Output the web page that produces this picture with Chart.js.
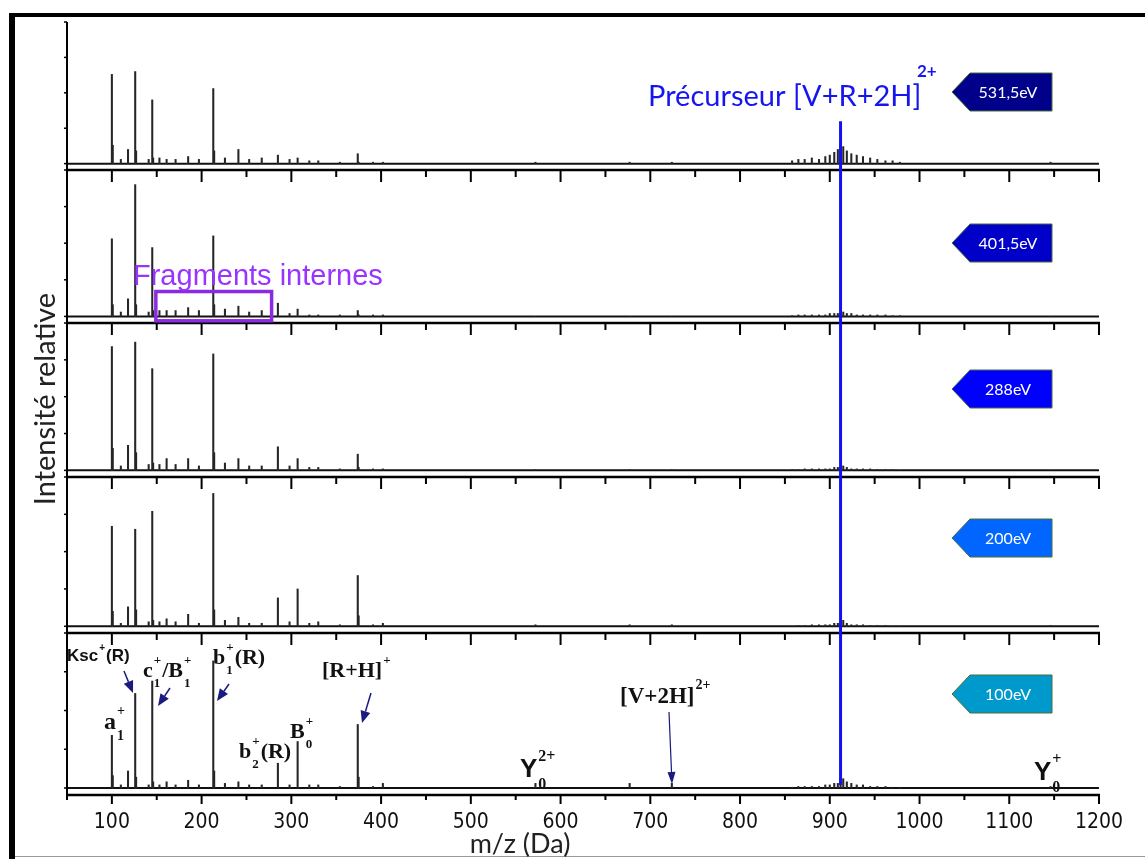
<!DOCTYPE html>
<html>
<head>
<meta charset="utf-8">
<script src="https://cdn.jsdelivr.net/npm/chart.js@4/dist/chart.umd.min.js"></script>
<style>
  body { margin: 0; background: #fff; }
  #wrap { position: relative; width: 1145px; height: 859px; overflow: hidden; background: #fff; }
  #spectres { position: absolute; left: 0; top: 0; }
  #cadre { position: absolute; left: 9px; top: 13px; width: 1200px; height: 900px;
           border-top: 4px solid #000; border-left: 6px solid #000; }
  #bas { position: absolute; left: 15px; top: 856px; width: 1140px; height: 1px; background: #999; }
</style>
</head>
<body>
<div id="wrap">
  <div id="cadre"></div>
  <div id="bas"></div>
  <canvas id="spectres" width="1145" height="859"></canvas>
</div>
<script>
// Energies (panel order, top to bottom)
const energies = ['531,5eV', '401,5eV', '288eV', '200eV', '100eV'];
const couleursEnergie = ['#00008b', '#0000c8', '#0000ff', '#0066ff', '#0099cc'];

// Fragment peaks (m/z) and relative intensities per panel
const mzPics = [100, 101, 110, 118, 126, 127, 141, 145, 146, 153, 161, 171, 185, 197, 213, 214,
                226, 241, 253, 267, 285, 298, 307, 320, 330, 354, 374, 375, 391, 402, 572, 677, 724, 912, 1146];
const pics531 = [63, 13, 3, 10, 65, 9, 3, 45, 4, 4, 3, 3, 5, 3, 53, 9,
                 4, 10, 3, 4, 6, 3, 4, 2, 2, 1, 7, 1, 1, 1, 1, 1, 1, 15, 1];
const pics401 = [53, 8, 3, 12, 90, 8, 3, 47, 4, 4, 4, 4, 6, 4, 55, 8,
                 5, 7, 3, 4, 9, 2, 5, 1, 1, 1, 4, 1, 1, 1, 0, 0, 0, 2, 0];
const pics288 = [84, 15, 3, 17, 87, 12, 4, 69, 5, 4, 8, 4, 8, 3, 79, 12,
                 5, 8, 3, 3, 16, 3, 8, 2, 2, 1, 11, 2, 1, 1, 0.5, 0.5, 0.5, 2, 0];
const pics200 = [67, 10, 2, 13, 65, 11, 3, 77, 4, 3, 5, 3, 8, 2, 89, 11,
                 4, 6, 2, 2, 19, 3, 25, 2, 3, 1, 34, 7, 1, 2, 1, 1, 1, 3, 0.5];
const pics100 = [34, 8, 2, 11, 61, 7, 2, 69, 4, 2, 4, 2, 5, 2, 82, 11,
                 3, 4, 2, 2, 16, 2, 30, 2, 2, 1, 41, 7, 1, 3, 3, 3, 3, 6, 1];

// Noise around the precursor
const mzBruit = [858, 865, 872, 880, 888, 895, 900, 905, 909, 915, 919, 924, 930, 937, 945, 953, 962, 970, 978];
const bruit531 = [2, 3, 3, 4, 3, 5, 6, 8, 10, 12, 9, 7, 6, 5, 4, 3, 2, 2, 1];
const bruit401 = [0.5, 1, 1, 1, 1, 1, 2, 2, 2, 3, 2, 2, 1, 1, 1, 1, 1, 0.5, 0.5];
const bruit288 = [0.5, 0.5, 1, 1, 1, 1, 1, 2, 2, 3, 2, 1, 1, 1, 1, 0.5, 0.5, 0.5, 0];
const bruit200 = [0, 0.5, 0.5, 1, 1, 1, 1, 2, 2, 4, 2, 1, 1, 1, 0.5, 0.5, 0.5, 0, 0];
const bruit100 = [0.5, 1, 1, 1, 1, 2, 2, 3, 3, 6, 4, 3, 2, 2, 1, 1, 1, 0.5, 0.5];

const intensites = [pics531, pics401, pics288, pics200, pics100];
const bruits = [bruit531, bruit401, bruit288, bruit200, bruit100];
const hauteursPanneaux = [148, 153, 154, 156, 162];

const PRECURSEUR = 912;
const ZONE_FRAGMENTS = [149, 278];
const MZ_MIN = 50, MZ_MAX = 1200;

// Build datasets: one stick set + one baseline per panel
const datasets = [];
intensites.forEach((vals, i) => {
  const points = mzPics.map((mz, j) => ({ x: mz, y: vals[j] }))
    .concat(mzBruit.map((mz, j) => ({ x: mz, y: bruits[i][j] })));
  datasets.push({
    type: 'bar',
    data: points,
    yAxisID: 'y' + i,
    backgroundColor: '#262626',
    barThickness: 1.4,
    grouped: false
  });
  datasets.push({
    type: 'line',
    data: [{ x: MZ_MIN, y: 0 }, { x: MZ_MAX, y: 0 }],
    yAxisID: 'y' + i,
    borderColor: '#111',
    borderWidth: 2,
    pointRadius: 0
  });
});

const scales = {
  x: {
    type: 'linear',
    min: MZ_MIN,
    max: MZ_MAX,
    offset: false,
    grid: { display: false, drawTicks: false },
    border: { display: false },
    afterFit: s => { s.height = 64; },
    ticks: {
      stepSize: 50,
      autoSkip: false,
      maxRotation: 0,
      padding: 15,
      color: '#111',
      font: { family: "'Liberation Sans Narrow', 'DejaVu Sans Condensed', 'Liberation Sans'", size: 21 },
      callback: v => (v % 100 === 0 ? v : '')
    }
  }
};
// stacked scales are laid out bottom-up, so add them from the last panel
for (let i = intensites.length - 1; i >= 0; i--) {
  scales['y' + i] = {
    type: 'linear',
    position: 'left',
    stack: 'spectres',
    stackWeight: hauteursPanneaux[i],
    offset: false,
    min: -4.5,
    max: 100,
    grid: { display: false, drawTicks: false },
    border: { display: false },
    ticks: { display: false },
    afterFit: s => { s.width = 0; }
  };
}

// Labels of the 100 eV panel: strings are main text, [sup, sub] pairs are scripts
const etiquettes = [
  { x: 67, y: 661, taille: 17, police: '"Liberation Sans"', morceaux: ['Ksc', ['+', null], '(R)'] },
  { x: 104, y: 729, taille: 24, police: '"Liberation Serif"', morceaux: ['a', ['+', '1']] },
  { x: 143, y: 677, taille: 22, police: '"Liberation Serif"', morceaux: ['c', ['+', '1'], '/B', ['+', '1']] },
  { x: 213, y: 664, taille: 22, police: '"Liberation Serif"', morceaux: ['b', ['+', '1'], '(R)'] },
  { x: 322, y: 677, taille: 22, police: '"Liberation Serif"', morceaux: ['[R+H]', ['+', null]] },
  { x: 290, y: 738, taille: 22, police: '"Liberation Serif"', morceaux: ['B', ['+', '0']] },
  { x: 239, y: 758, taille: 22, police: '"Liberation Serif"', morceaux: ['b', ['+', '2'], '(R)'] },
  { x: 520, y: 777, taille: 26, police: '"Liberation Sans"', script: '"Liberation Serif"', morceaux: ['Y', ['2+', '0']] },
  { x: 620, y: 703, taille: 23, police: '"Liberation Serif"', morceaux: ['[V+2H]', ['2+', null]] },
  { x: 1034, y: 780, taille: 26, police: '"Liberation Sans"', script: '"Liberation Serif"', morceaux: ['Y', ['+', '0']] }
];

function dessinerEtiquette(ctx, e) {
  let cx = e.x;
  const petit = Math.round(e.taille * 0.6);
  e.morceaux.forEach(m => {
    if (typeof m === 'string') {
      ctx.font = 'bold ' + e.taille + 'px ' + e.police;
      ctx.fillText(m, cx, e.y);
      cx += ctx.measureText(m).width;
    } else {
      ctx.font = 'bold ' + petit + 'px ' + (e.script || e.police);
      let w = 0;
      if (m[0]) {
        ctx.fillText(m[0], cx + 1, e.y - e.taille * 0.6);
        w = Math.max(w, ctx.measureText(m[0]).width);
      }
      if (m[1]) {
        ctx.fillText(m[1], cx + 1, e.y + e.taille * 0.45);
        w = Math.max(w, ctx.measureText(m[1]).width);
      }
      cx += w + 2;
    }
  });
}

// Axes of each panel, precursor line, box, texts and energy badges
const decor = {
  id: 'decor',
  afterDraw(chart) {
    const ctx = chart.ctx;
    const x = chart.scales.x;
    const area = chart.chartArea;
    ctx.save();
    ctx.strokeStyle = '#000';
    ctx.lineCap = 'butt';
    intensites.forEach((v, i) => {
      const ys = chart.scales['y' + i];
      const bas = ys.bottom;
      const dernier = i === intensites.length - 1;
      ctx.lineWidth = 2.5;
      ctx.beginPath();
      ctx.moveTo(area.left - 1, bas);
      ctx.lineTo(area.right + 1, bas);
      ctx.stroke();
      ctx.lineWidth = 2;
      for (let m = MZ_MIN; m <= MZ_MAX; m += 50) {
        const px = x.getPixelForValue(m);
        const len = m % 100 === 0 ? (dernier ? 9 : 12) : (dernier ? 5 : 7);
        ctx.beginPath();
        ctx.moveTo(px, bas);
        ctx.lineTo(px, bas + len);
        ctx.stroke();
      }
      ctx.lineWidth = 2;
      ctx.beginPath();
      ctx.moveTo(area.left, ys.getPixelForValue(100));
      ctx.lineTo(area.left, bas);
      ctx.stroke();
      ctx.lineWidth = 1.5;
      [0, 25, 50, 75, 100].forEach(t => {
        const py = ys.getPixelForValue(t);
        ctx.beginPath();
        ctx.moveTo(area.left - 3, py);
        ctx.lineTo(area.left, py);
        ctx.stroke();
      });
    });

    // precursor line
    const xp = x.getPixelForValue(PRECURSEUR);
    ctx.strokeStyle = '#1212ee';
    ctx.lineWidth = 3;
    ctx.beginPath();
    ctx.moveTo(xp, chart.scales.y0.getPixelForValue(30));
    ctx.lineTo(xp, chart.scales.y4.getPixelForValue(2));
    ctx.stroke();

    // internal fragments box
    const yb = chart.scales.y1;
    const bx0 = x.getPixelForValue(ZONE_FRAGMENTS[0]);
    const bx1 = x.getPixelForValue(ZONE_FRAGMENTS[1]);
    const by0 = yb.getPixelForValue(17);
    const by1 = yb.getPixelForValue(-3);
    ctx.strokeStyle = '#8a2be2';
    ctx.lineWidth = 3.5;
    ctx.strokeRect(bx0, by0, bx1 - bx0, by1 - by0);

    // peak labels
    ctx.fillStyle = '#111';
    ctx.textBaseline = 'alphabetic';
    ctx.textAlign = 'left';
    etiquettes.forEach(e => dessinerEtiquette(ctx, e));

    // arrows
    const fleches = [[124, 671, 133, 693], [170, 688, 158, 706], [229, 684, 217, 701],
                     [371, 693, 362, 723], [669, 712, 672, 784]];
    ctx.strokeStyle = '#1a1a80';
    ctx.fillStyle = '#1a1a80';
    fleches.forEach(([x0, y0, x1, y1], k) => {
      const a = Math.atan2(y1 - y0, x1 - x0);
      const L = 12, W = k === 4 ? 4 : 5;
      ctx.lineWidth = k === 4 ? 1.2 : 1.5;
      ctx.beginPath();
      ctx.moveTo(x0, y0);
      ctx.lineTo(x1 - L * Math.cos(a), y1 - L * Math.sin(a));
      ctx.stroke();
      ctx.beginPath();
      ctx.moveTo(x1, y1);
      ctx.lineTo(x1 - L * Math.cos(a) + W * Math.sin(a), y1 - L * Math.sin(a) - W * Math.cos(a));
      ctx.lineTo(x1 - L * Math.cos(a) - W * Math.sin(a), y1 - L * Math.sin(a) + W * Math.cos(a));
      ctx.closePath();
      ctx.fill();
    });

    // precursor title
    ctx.fillStyle = '#1515f0';
    ctx.font = '29px Lato';
    ctx.fillText('Précurseur [V+R+2H]', 648, 106);
    ctx.font = 'bold 17px Lato';
    ctx.fillText('2+', 917, 77);

    // internal fragments title
    ctx.fillStyle = '#9933ff';
    ctx.font = '29px "Liberation Sans"';
    ctx.fillText('Fragments internes', 133, 285);

    // axis titles
    ctx.fillStyle = '#222';
    ctx.font = '27px Lato';
    ctx.textAlign = 'center';
    ctx.fillText('m/z (Da)', 520, 853);
    ctx.font = '29px Lato';
    ctx.save();
    ctx.translate(55, 399);
    ctx.rotate(-Math.PI / 2);
    ctx.fillText('Intensité relative', 0, 0);
    ctx.restore();

    // energy badges
    const centres = [92, 243, 389, 538, 694];
    energies.forEach((e, i) => {
      const cy = centres[i];
      ctx.beginPath();
      ctx.moveTo(952, cy);
      ctx.lineTo(970, cy - 19);
      ctx.lineTo(1052, cy - 19);
      ctx.lineTo(1052, cy + 19);
      ctx.lineTo(970, cy + 19);
      ctx.closePath();
      ctx.fillStyle = couleursEnergie[i];
      ctx.fill();
      ctx.strokeStyle = '#4d6b3c';
      ctx.lineWidth = 1;
      ctx.stroke();
      ctx.fillStyle = '#fff';
      ctx.font = '16px Lato';
      ctx.textAlign = 'center';
      ctx.textBaseline = 'middle';
      ctx.fillText(e, 1008, cy + 1);
    });
    ctx.restore();
  }
};

new Chart(document.getElementById('spectres'), {
  type: 'bar',
  data: { datasets: datasets },
  options: {
    responsive: false,
    animation: false,
    devicePixelRatio: 1,
    layout: { padding: { left: 67, right: 46, top: 22, bottom: 0 } },
    plugins: { legend: { display: false }, tooltip: { enabled: false } },
    scales: scales
  },
  plugins: [decor]
});
</script>
</body>
</html>
